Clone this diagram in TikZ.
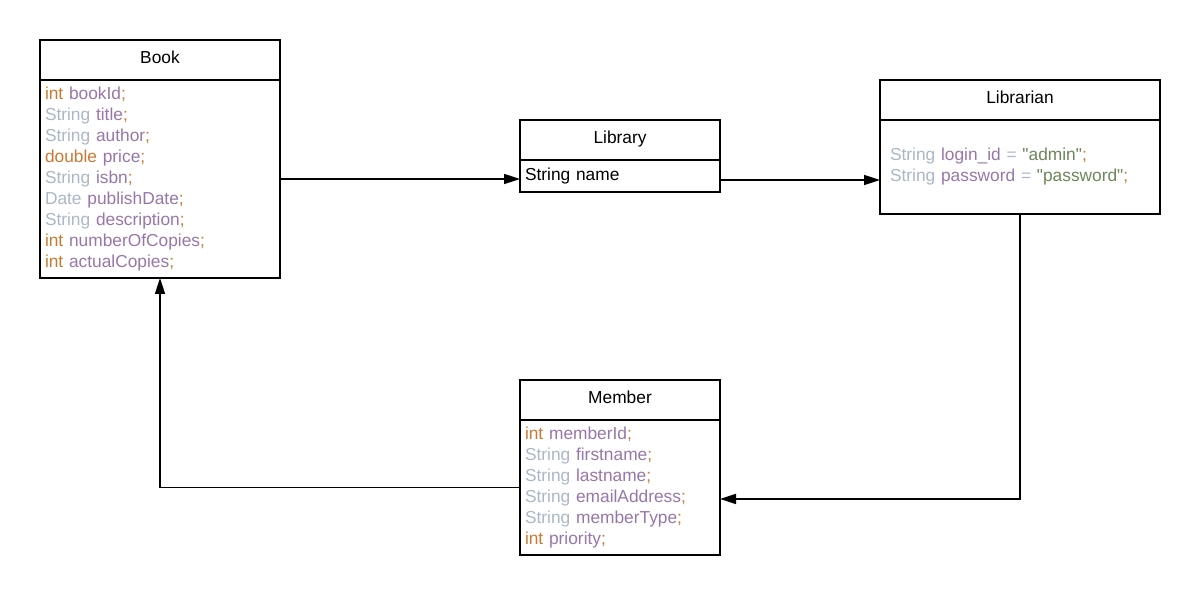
\documentclass[tikz,border=0pt]{standalone}
\usepackage{fontspec}
\setmainfont{Liberation Sans}
\usetikzlibrary{arrows.meta, positioning}

\definecolor{kwOrange}{HTML}{CC7832}
\definecolor{typeGray}{HTML}{A9B7C6}
\definecolor{fieldPurple}{HTML}{9876AA}
\definecolor{strGreen}{HTML}{6A8759}

\newcommand{\kw}[1]{\textcolor{kwOrange}{#1}}
\newcommand{\tp}[1]{\textcolor{typeGray}{#1}}
\newcommand{\fd}[1]{\textcolor{fieldPurple}{#1}}
\newcommand{\sv}[1]{\textcolor{strGreen}{\textquotedbl#1\textquotedbl}}
\newcommand{\semi}{\textcolor{kwOrange}{;}}

\begin{document}
\begin{tikzpicture}[x=0.75pt,y=-0.75pt,
    every node/.style={font=\fontsize{13}{15.75}\selectfont},
    head/.style={draw,line width=1.5pt,outer sep=0pt,minimum height=30pt,inner sep=0pt,text depth=4.5pt},
    body/.style={draw,line width=1.5pt,outer sep=0pt,align=left,inner ysep=0pt,inner xsep=3.75pt},
    link/.style={line width=1.2pt,-{Triangle[length=12pt,width=7.5pt]}}]
  \useasboundingbox (0,0) rectangle (1200,595);

  % class headers
  \node[head,minimum width=180pt] (book) at (160,60) {Book};
  \node[head,minimum width=150pt] (library) at (620,140) {Library};
  \node[head,minimum width=210pt] (librarian) at (1020,100) {Librarian};
  \node[head,minimum width=150pt] (member) at (620,400) {Member};

  % class bodies
  \node[body,below=0pt of book,text width=172.5pt,minimum height=148.5pt] (book-body) {%
    \kw{int} \fd{bookId}\semi\\
    \tp{String} \fd{title}\semi\\
    \tp{String} \fd{author}\semi\\
    \kw{double} \fd{price}\semi\\
    \tp{String} \fd{isbn}\semi\\
    \tp{Date} \fd{publishDate}\semi\\
    \tp{String} \fd{description}\semi\\
    \kw{int} \fd{numberOfCopies}\semi\\
    \kw{int} \fd{actualCopies}\semi};
  \node[body,below=0pt of library,text width=142.5pt,minimum height=24pt] (library-body) {String name};
  \node[body,below=0pt of librarian,inner xsep=7.5pt,text width=195pt,minimum height=70.5pt] (librarian-body) {%
    \tp{String} \fd{login\_id} \tp{=} \sv{admin}\semi\\
    \tp{String} \fd{password} \tp{=} \sv{password}\semi};
  \node[body,below=0pt of member,text width=142.5pt,minimum height=101.25pt] (member-body) {%
    \kw{int} \fd{memberId}\semi\\
    \tp{String} \fd{firstname}\semi\\
    \tp{String} \fd{lastname}\semi\\
    \tp{String} \fd{emailAddress}\semi\\
    \tp{String} \fd{memberType}\semi\\
    \kw{int} \fd{priority}\semi};

  % associations
  \draw[link] (book-body.east) -- (book-body.east -| library-body.west);
  \draw[link] ([yshift=-3pt]library-body.east) -- ([yshift=-3pt]library-body.east -| librarian-body.west);
  \draw[link] (librarian-body.south) |- ([yshift=-8.6pt]member-body.east);
  \draw[link] (member-body.west) -| (book-body.south);
\end{tikzpicture}
\end{document}
